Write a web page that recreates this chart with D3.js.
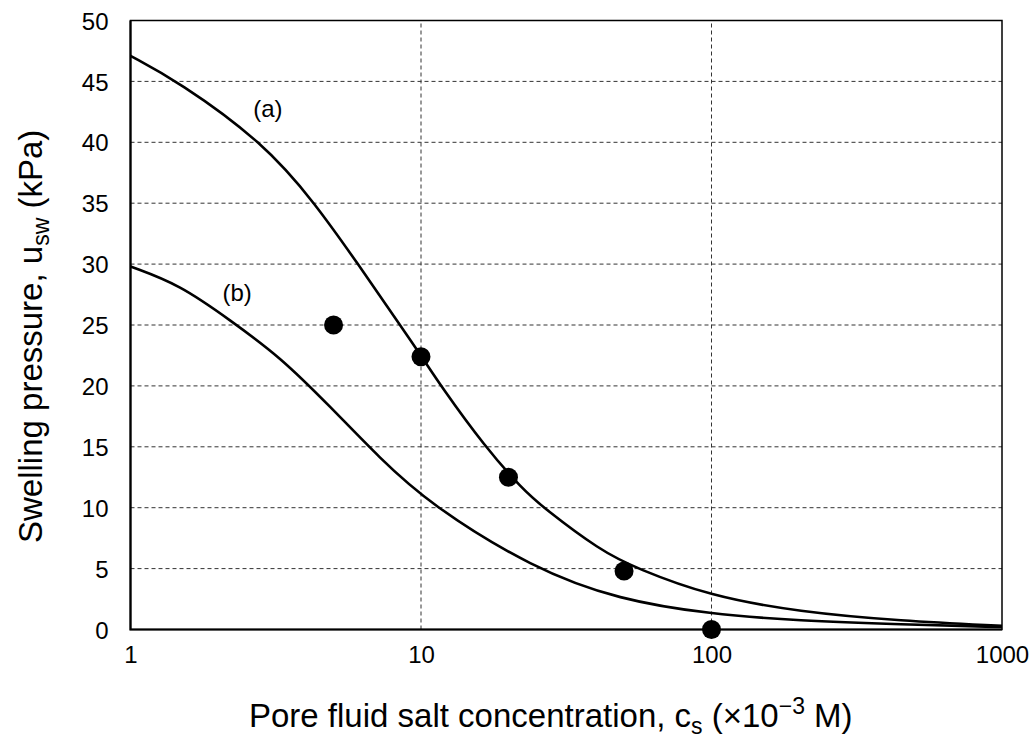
<!DOCTYPE html>
<html lang="en">
<style>
body { margin: 0; background: #fff; }
text { font-family: "Liberation Sans", Arial, sans-serif; fill: #000; }
.grid line { stroke: #333; stroke-width: 1; stroke-dasharray: 4,3; }
.curve { fill: none; stroke: #000; stroke-width: 2.6px; }
</style>
<script type="text/javascript" src="https://d3js.org/d3.v7.min.js"></script>
<body>
<script type="text/javascript">

// Chart size
var width = 1034,
    height = 740;
var margin = {top: 20.5, right: 32, bottom: 110.5, left: 130.5};

// Tick labels
var xTicks = [1, 10, 100, 1000];
var yTicks = [0, 5, 10, 15, 20, 25, 30, 35, 40, 45, 50];

// Curve (a): concentration and pressure
var curveAx = [1, 1.46, 2.86, 4.32, 6.07, 8.47, 10, 11.7, 16.6, 22.4, 26.4, 41.3, 55.3, 98.6, 200, 450, 1000];
var curveAy = [47.1, 45, 40, 35, 30, 25, 22.5, 20, 15, 11.5, 10, 6.5, 5, 2.75, 1.45, 0.7, 0.3];

// Curve (b)
var curveBx = [1, 1.48, 2.2, 3.27, 4.87, 7.22, 10.7, 24.3, 48.4, 98.6, 200, 450, 1000];
var curveBy = [29.8, 28.3, 25.4, 22.4, 18.3, 14.05, 10.3, 5, 2.42, 1.27, 0.72, 0.42, 0.2];

// Measured points
var pointsX = [5, 10, 20, 50, 100];
var pointsY = [25, 22.4, 12.5, 4.8, 0];

var svg = d3.select("body")
            .append("svg")
            .attr("width", width)
            .attr("height", height);

var x = d3.scaleLog()
    .domain([1, 1000])
    .range([margin.left, width - margin.right]);

var y = d3.scaleLinear()
    .domain([0, 50])
    .range([height - margin.bottom, margin.top]);

// Dashed grid lines
var grid = svg.append("g").attr("class", "grid");
grid.selectAll("line.h")
    .data(yTicks.filter(function(d) { return d > 0 && d < 50; }))
    .enter().append("line")
      .attr("x1", x(1)).attr("x2", x(1000))
      .attr("y1", function(d) { return y(d); })
      .attr("y2", function(d) { return y(d); });
grid.selectAll("line.v")
    .data([10, 100])
    .enter().append("line")
      .attr("y1", y(0)).attr("y2", y(50))
      .attr("x1", function(d) { return x(d); })
      .attr("x2", function(d) { return x(d); });

// Axes: labels only, the frame is drawn below
var xAxis = svg.append("g")
    .attr("transform", "translate(0," + y(0) + ")")
    .call(d3.axisBottom(x).tickValues(xTicks).tickFormat(d3.format("d")).tickSize(0).tickPadding(16));
var yAxis = svg.append("g")
    .attr("transform", "translate(" + x(1) + ",0)")
    .call(d3.axisLeft(y).tickValues(yTicks).tickSize(0).tickPadding(22));
[xAxis, yAxis].forEach(function(a) {
  a.select(".domain").remove();
  a.selectAll("text").style("font-size", "24px").attr("font-family", null);
});
xAxis.selectAll("text").attr("dy", "0.72em");
yAxis.selectAll("text").attr("dy", "0.36em");

// Frame
svg.append("rect")
    .attr("x", x(1)).attr("y", y(50))
    .attr("width", x(1000) - x(1)).attr("height", y(0) - y(50))
    .attr("fill", "none").attr("stroke", "#000").attr("stroke-width", 1.5);
svg.append("path")
    .attr("d", "M" + x(1) + "," + y(50) + "V" + y(0) + "H" + x(1000))
    .attr("fill", "none").attr("stroke", "#000").attr("stroke-width", 2.2);

// Curves (smoothed through the read-off points)
var line = d3.line()
    .x(function(d) { return x(d[0]); })
    .y(function(d) { return y(d[1]); })
    .curve(d3.curveBasis);

svg.append("path")
    .attr("class", "curve")
    .attr("d", line(d3.zip(curveAx, curveAy)));
svg.append("path")
    .attr("class", "curve")
    .attr("d", line(d3.zip(curveBx, curveBy)));

// Points
svg.append("g")
  .selectAll("circle")
  .data(d3.zip(pointsX, pointsY))
  .enter().append("circle")
    .attr("cx", function(d) { return x(d[0]); })
    .attr("cy", function(d) { return y(d[1]); })
    .attr("r", 9.5)
    .attr("fill", "#000");

// Curve labels
svg.append("text")
    .attr("x", x(2.97)).attr("y", y(42.8))
    .attr("text-anchor", "middle").attr("dy", "0.36em")
    .style("font-size", "24px")
    .text("(a)");
svg.append("text")
    .attr("x", x(2.33)).attr("y", y(27.7))
    .attr("text-anchor", "middle").attr("dy", "0.36em")
    .style("font-size", "24px")
    .text("(b)");

// X axis title
var xt = svg.append("text")
    .attr("x", 249).attr("y", 727)
    .style("font-size", "33px");
xt.append("tspan").text("Pore fluid salt concentration, c");
xt.append("tspan").attr("dy", 7).style("font-size", "23px").text("s");
xt.append("tspan").attr("dy", -7).text(" (\u00d710");
xt.append("tspan").attr("dy", -13).style("font-size", "23px").text("\u22123");
xt.append("tspan").attr("dy", 13).text(" M)");

// Y axis title
var yt = svg.append("text")
    .attr("transform", "translate(42,543) rotate(-90)")
    .style("font-size", "33px");
yt.append("tspan").text("Swelling pressure, u");
yt.append("tspan").attr("dy", 7).style("font-size", "23px").text("sw");
yt.append("tspan").attr("dy", -7).text(" (kPa)");

</script>
</body>
</html>
